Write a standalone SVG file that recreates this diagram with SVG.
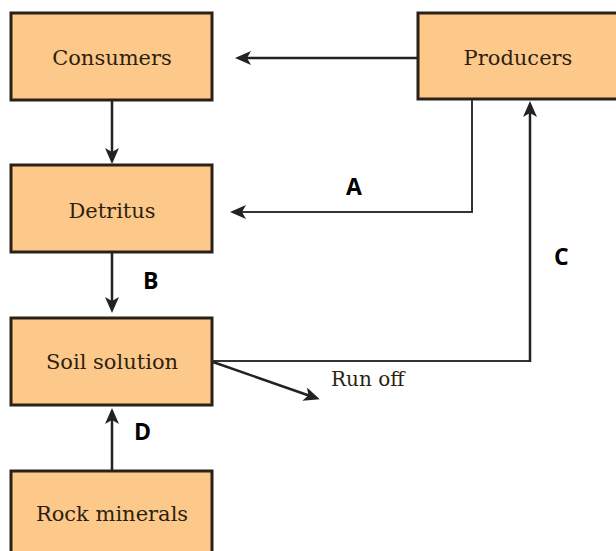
<svg xmlns="http://www.w3.org/2000/svg" width="616" height="551" viewBox="0 0 616 551">
<style>
.box{fill:#fdc98b;stroke:#2b2118;stroke-width:3}
.lbl{font-family:"DejaVu Serif",serif;font-size:21px;fill:#2e1f10;text-anchor:middle}
.let{font-family:"Open Sans","DejaVu Sans",sans-serif;font-weight:bold;font-size:23px;fill:#000}
.ln{fill:none;stroke:#222;stroke-width:2.5}
.thin{fill:none;stroke:#333;stroke-width:2}
</style>
<defs>
<marker id="ah" viewBox="0 0 16 14" refX="12" refY="7" markerWidth="16" markerHeight="14" markerUnits="userSpaceOnUse" orient="auto">
<path d="M0,0 L16,7 L0,14 L4,7 z" fill="#222"/>
</marker>
</defs>
<rect width="616" height="551" fill="#fff"/>
<g id="consumers"><rect class="box" x="11" y="13" width="201" height="87"/><text class="lbl" x="112" y="65">Consumers</text></g>
<g id="producers"><rect class="box" x="418" y="13" width="210" height="86"/><text class="lbl" x="518" y="65">Producers</text></g>
<g id="detritus"><rect class="box" x="11" y="165" width="201" height="87"/><text class="lbl" x="112" y="218">Detritus</text></g>
<g id="soil"><rect class="box" x="11" y="318" width="201" height="87"/><text class="lbl" x="112" y="369">Soil solution</text></g>
<g id="rock"><rect class="box" x="11" y="471" width="201" height="95"/><text class="lbl" x="112" y="521">Rock minerals</text></g>
<g id="connectors">
<line class="ln" x1="417" y1="58" x2="239" y2="58" marker-end="url(#ah)"/>
<line class="ln" x1="112" y1="100" x2="112" y2="160" marker-end="url(#ah)"/>
<path class="thin" d="M472,100 V212 H234" marker-end="url(#ah)"/>
<line class="ln" x1="112" y1="252" x2="112" y2="309" marker-end="url(#ah)"/>
<path class="thin" d="M212,361 H530"/>
<line class="ln" x1="530" y1="362" x2="530" y2="105" marker-end="url(#ah)"/>
<line class="ln" x1="213" y1="362" x2="316" y2="398" marker-end="url(#ah)"/>
<line class="ln" x1="112" y1="470" x2="112" y2="412" marker-end="url(#ah)"/>
</g>
<g id="labels">
<text class="let" x="346" y="195">A</text>
<text class="let" x="143" y="289">B</text>
<text class="let" x="554" y="265">C</text>
<text class="let" x="134" y="440">D</text>
<text class="lbl" x="331" y="386" style="text-anchor:start;font-size:20px">Run off</text>
</g>
</svg>
